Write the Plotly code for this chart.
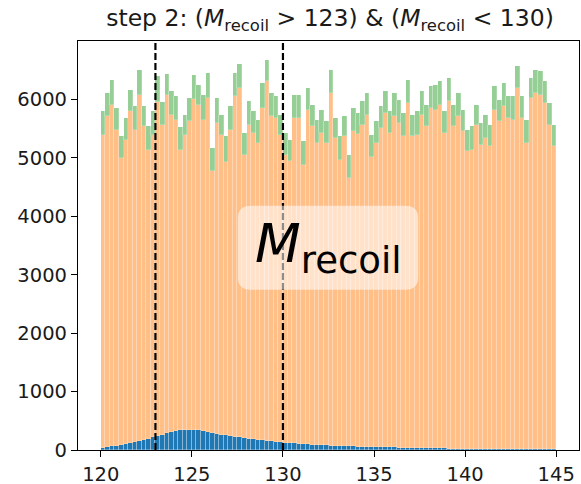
import numpy as np
import plotly.graph_objects as go

# bin edges of the histogram (M_recoil, GeV)
bin_lo, bin_hi, n_bins = 120.0, 145.0, 100
edges = np.linspace(bin_lo, bin_hi, n_bins + 1)
centers = 0.5 * (edges[:-1] + edges[1:])
width = edges[1] - edges[0]

# signal (blue)
signal = [30, 45, 60, 75, 90, 105, 120, 138, 155, 175,
          195, 218, 240, 262, 285, 310, 330, 342, 348, 350,
          345, 335, 320, 305, 290, 276, 262, 250, 238, 227,
          218, 207, 196, 186, 176, 167, 158, 150, 142, 135,
          128, 121, 115, 109, 104, 99, 94, 89, 85, 81,
          77, 73, 70, 67, 64, 61, 59, 57, 55, 53,
          51, 49, 47, 45, 43, 41, 39, 37, 35, 33,
          31, 30, 29, 28, 27, 26, 25, 24, 23, 22,
          21, 20, 19, 18, 17, 16, 16, 15, 15, 14,
          14, 13, 13, 12, 12, 11, 11, 10, 10, 10]

# background 1 (orange)
bkg1 = [5366, 5666, 5840, 5405, 4905, 5205, 5680, 5343, 5928, 5364,
        4943, 5178, 5710, 5298, 5785, 5430, 5320, 4798, 5047, 5280,
        5655, 5565, 5330, 5725, 4480, 5320, 5133, 4687, 5243, 5827,
        5982, 4845, 5371, 5238, 5076, 5687, 6154, 5561, 5540, 5260,
        4922, 4829, 5567, 5581, 4776, 5726, 5445, 5163, 5339, 5171,
        6034, 5265, 4896, 5300, 4587, 5392, 5341, 5513, 5685, 4970,
        5201, 5461, 5723, 5379, 5668, 5555, 5328, 5903, 5332, 5363,
        5709, 5509, 5825, 5797, 5884, 5398, 5943, 5515, 5688, 5431,
        5089, 5118, 5548, 5206, 5321, 5179, 5809, 5610, 5868, 5668,
        5639, 6184, 5669, 5240, 6014, 6100, 6072, 5930, 5557, 5185]

# background 2 (green)
bkg2 = [400, 400, 440, 374, 372, 372, 369, 401, 429, 343,
        401, 404, 448, 390, 367, 400, 404, 380, 344, 396,
        415, 355, 433, 425, 396, 430, 344, 430, 401, 401,
        398, 372, 401, 372, 401, 429, 355, 400, 372, 344,
        370, 360, 401, 393, 401, 372, 372, 401, 401, 373,
        401, 344, 401, 344, 401, 401, 368, 398, 371, 373,
        373, 372, 370, 372, 400, 401, 401, 400, 372, 400,
        400, 372, 372, 430, 401, 376, 401, 372, 400, 372,
        371, 401, 344, 372, 401, 372, 401, 372, 400, 372,
        401, 373, 372, 401, 343, 401, 400, 372, 373, 372]

cut_lo, cut_hi = 123, 130
x_ticks = [120, 125, 130, 135, 140, 145]
y_ticks = [0, 1000, 2000, 3000, 4000, 5000, 6000]

FONT = "DejaVu Sans"
sep = dict(width=0.6, color="rgba(255,255,255,0.35)")

fig = go.Figure()
fig.add_trace(go.Bar(x=centers, y=signal, width=width, marker=dict(color="#1f77b4", line=dict(width=0.6, color="rgba(255,255,255,0.45)")), showlegend=False))
fig.add_trace(go.Bar(x=centers, y=bkg1, width=width, marker=dict(color="#ffbf87", line=sep), showlegend=False))
fig.add_trace(go.Bar(x=centers, y=bkg2, width=width, marker=dict(color="#96cf96", line=sep), showlegend=False))

for c in (cut_lo, cut_hi):
    fig.add_shape(type="line", x0=c, x1=c, y0=0, y1=1, xref="x", yref="paper",
                  line=dict(color="black", width=2.2, dash="7px,3px"))

# rounded label box
x0, x1, y0, y1 = 0.319, 0.679, 0.392, 0.597
rx, ry = 0.026, 0.031
path = (f"M {x0+rx},{y0} L {x1-rx},{y0} Q {x1},{y0} {x1},{y0+ry} "
        f"L {x1},{y1-ry} Q {x1},{y1} {x1-rx},{y1} L {x0+rx},{y1} "
        f"Q {x0},{y1} {x0},{y1-ry} L {x0},{y0+ry} Q {x0},{y0} {x0+rx},{y0} Z")
fig.add_shape(type="path", path=path, xref="paper", yref="paper",
              fillcolor="rgba(255,255,255,0.55)", line=dict(width=0), layer="above")
fig.add_annotation(x=0.5, y=0.494, xref="paper", yref="paper", showarrow=False,
                   text="<i>M</i><sub>recoil</sub>", font=dict(family=FONT, size=53, color="black"),
                   xanchor="center", yanchor="middle")

fig.update_layout(
    width=581, height=484,
    margin=dict(l=78, r=2, t=41, b=34),
    paper_bgcolor="white", plot_bgcolor="white",
    barmode="stack", bargap=0,
    title=dict(text="step 2: (<i>M</i><sub>recoil</sub> &gt; 123) &amp; (<i>M</i><sub>recoil</sub> &lt; 130)",
               x=330/581, xref="container", xanchor="center",
               y=1 - 18/484, yref="container", yanchor="middle",
               font=dict(family=FONT, size=23.5, color="#1a1a1a")),
    font=dict(family=FONT, size=19.5, color="#1a1a1a"),
)
fig.update_xaxes(range=[118.75, 146.25], tickvals=x_ticks, ticks="outside", ticklen=6, tickwidth=1.2,
                 tickcolor="black", showline=True, linecolor="black", linewidth=1.2, mirror=True,
                 showgrid=False, zeroline=False, automargin=False, tickfont=dict(family=FONT, size=19.5))
fig.update_yaxes(range=[0, 7000], tickvals=y_ticks, ticks="outside", ticklen=6, tickwidth=1.2,
                 tickcolor="black", showline=True, linecolor="black", linewidth=1.2, mirror=True,
                 showgrid=False, zeroline=False, automargin=False, tickfont=dict(family=FONT, size=19.5))

fig.write_html("out.html")
